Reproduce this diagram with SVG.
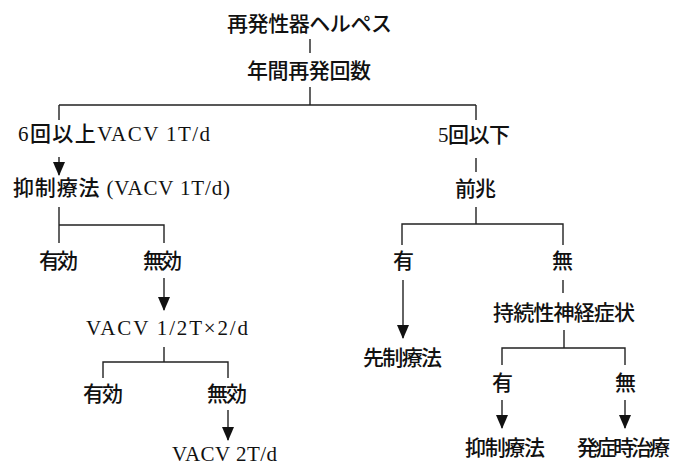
<svg xmlns="http://www.w3.org/2000/svg" width="678" height="466" viewBox="0 0 678 466">
<style>
text{font-family:"Liberation Serif","Noto Sans CJK JP",serif;font-size:21px;font-weight:500;fill:#111}
.ln{stroke:#222;stroke-width:1.4;fill:none}
.ar{stroke:#222;stroke-width:1.4;fill:none;marker-end:url(#ah)}
</style>
<defs>
<marker id="ah" markerUnits="userSpaceOnUse" markerWidth="14" markerHeight="12" refX="13" refY="6" orient="auto" viewBox="0 0 14 12">
<path d="M0,0 L14,6 L0,12 Z" fill="#111"/>
</marker>
</defs>
<rect width="678" height="466" fill="#fff"/>
<g id="connectors">
<path class="ln" d="M310,39V53M310,87V105M59,105H476M59,105V120M476,105V120"/>
<path class="ln" d="M476,158V172"/>
<path class="ln" d="M59,207V243M59,225H164V243"/>
<path class="ln" d="M164,347V362M103,378V362H228V378"/>
<path class="ln" d="M476,207V224M402,245V224H563V245"/>
<path class="ln" d="M563,280V293"/>
<path class="ln" d="M564,330V348M502,365V348H625V365"/>
<path class="ar" d="M59,157V175"/>
<path class="ar" d="M164,278V310"/>
<path class="ar" d="M228,410V440"/>
<path class="ar" d="M403,280V338"/>
<path class="ar" d="M502,400V428"/>
<path class="ar" d="M625,400V428"/>
</g>
<g id="n-title"><text x="227" y="30.5" textLength="165" lengthAdjust="spacing">再発性器ヘルペス</text></g>
<g id="n-annual"><text x="247" y="77.5" textLength="124" lengthAdjust="spacing">年間再発回数</text></g>
<g id="n-6times"><text x="18" y="141" textLength="192" lengthAdjust="spacing">6回以上VACV 1T/d</text></g>
<g id="n-5times"><text x="438" y="142" textLength="72" lengthAdjust="spacing">5回以下</text></g>
<g id="n-suppress1"><text x="13" y="195" textLength="217" lengthAdjust="spacing">抑制療法 (VACV 1T/d)</text></g>
<g id="n-prodrome"><text x="455" y="196" textLength="41" lengthAdjust="spacing">前兆</text></g>
<g id="n-eff1"><text x="39" y="268" textLength="39" lengthAdjust="spacing">有効</text></g>
<g id="n-ineff1"><text x="143" y="268" textLength="39" lengthAdjust="spacing">無効</text></g>
<g id="n-yes1"><text x="393" y="268">有</text></g>
<g id="n-no1"><text x="552" y="268">無</text></g>
<g id="n-persist"><text x="493" y="320" textLength="142" lengthAdjust="spacing">持続性神経症状</text></g>
<g id="n-vacv-half"><text x="86" y="335" textLength="162" lengthAdjust="spacing">VACV 1/2T×2/d</text></g>
<g id="n-preemptive"><text x="363" y="365" textLength="79" lengthAdjust="spacing">先制療法</text></g>
<g id="n-eff2"><text x="83" y="401" textLength="40" lengthAdjust="spacing">有効</text></g>
<g id="n-ineff2"><text x="207" y="401" textLength="40" lengthAdjust="spacing">無効</text></g>
<g id="n-yes2"><text x="492" y="390">有</text></g>
<g id="n-no2"><text x="615" y="390">無</text></g>
<g id="n-suppress2"><text x="465" y="455" textLength="80" lengthAdjust="spacing">抑制療法</text></g>
<g id="n-episodic"><text x="577" y="455" textLength="93" lengthAdjust="spacing">発症時治療</text></g>
<g id="n-vacv-2t"><text x="172" y="461" textLength="105" lengthAdjust="spacing">VACV 2T/d</text></g>
</svg>
